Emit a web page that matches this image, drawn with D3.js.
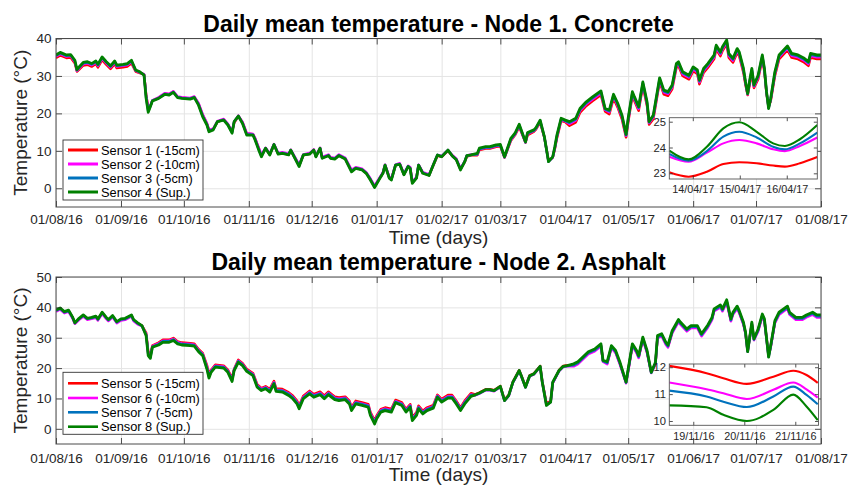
<!DOCTYPE html>
<html><head><meta charset="utf-8">
<script src="https://cdn.jsdelivr.net/npm/d3@7"></script>
<style>body{margin:0;background:#fff;} svg{font-family:"Liberation Sans",Arial,Helvetica,sans-serif;display:block;}</style>
</head><body><svg id="c" width="848" height="485"></svg>
<script>
// ---------------- DATA ----------------
const xTickLabels = ["01/08/16","01/09/16","01/10/16","01/11/16","01/12/16","01/01/17","01/02/17","01/03/17","01/04/17","01/05/17","01/06/17","01/07/17","01/08/17"];
const yTicksTop = [0,10,20,30,40];
const yTicksBot = [0,10,20,30,40,50];

// days since 01/08/16 (Node 1)
const daysTop = [0,2,5,7,9,10,11,13,15,17,19,20,22,24,26,28,29,32,34,36,38,40,
42,43,44,45,46,49,52,54,56,58,60,64,66,68,70,72,73,75,77,80,82,84,85,87,89,91,94,95,97,98,100,
102,104,106,108,111,112,114,116,118,121,123,124,126,127,130,131,133,135,138,141,143,146,148,150,152,155,156,157,159,160,162,164,166,168,169,170,172,173,175,178,180,182,184,187,189,191,193,195,196,198,
201,202,205,207,210,212,214,217,219,221,224,225,228,229,231,233,235,237,238,239,241,243,
245,248,250,253,256,260,262,264,266,268,270,272,273,275,276,278,280,282,283,285,287,288,290,292,294,296,297,299,302,304,306,307,309,311,314,315,317,318,320,321,323,325,326,328,329,330,331,332,333,335,337,338,339,340,341,343,345,349,351,354,357,359,360,363,365];
const sensor4 = [35.6,36.3,35.6,35.7,34.2,31.7,32.4,33.6,33.8,33.3,34.0,33.1,35.1,33.8,32.7,34.0,32.9,33.1,33.3,34.2,31.6,31.1,
30.2,24.0,20.3,21.8,23.3,24.0,25.1,24.9,25.6,24.2,24.0,23.8,24.2,22.2,19.1,16.9,15.1,15.6,17.8,18.2,16.9,14.7,17.8,19.3,17.3,14.2,14.2,12.9,9.8,8.4,10.7,
8.9,11.7,9.1,9.3,8.9,10.2,8.0,5.8,8.9,9.1,10.2,8.4,10.7,8.0,8.7,8.0,7.8,8.7,7.8,4.4,5.3,4.9,4.0,2.2,0.2,3.1,4.0,6.2,2.7,2.2,6.2,6.4,3.6,5.8,5.3,1.3,2.7,6.2,4.0,3.4,6.2,8.9,8.4,10.2,8.7,7.6,4.9,7.1,8.7,8.9,
9.3,10.7,11.1,11.1,11.6,11.7,8.4,13.3,14.7,17.1,12.4,14.9,15.6,16.2,18.2,13.8,7.1,8.4,11.1,14.2,18.7,18.2,
17.8,18.7,21.3,23.1,24.4,26.0,21.3,20.9,25.1,22.7,19.6,14.4,18.7,25.8,24.4,21.8,28.4,23.1,17.8,19.6,26.2,29.5,26.2,25.8,27.6,33.3,33.8,31.1,30.2,32.4,31.6,28.9,32.0,33.3,35.6,38.2,36.4,37.8,39.6,36.0,34.7,37.3,36.4,32.0,28.4,25.3,28.9,32.0,27.6,30.2,35.6,32.0,25.8,21.3,24.0,31.1,35.6,38.0,36.0,35.6,34.7,33.8,36.0,35.6,35.6];
const sensor3 = [35.4,36.1,35.4,35.5,34.0,31.5,32.2,33.4,33.6,33.1,33.8,32.9,34.9,33.6,32.5,33.8,32.7,32.9,33.1,34.0,31.5,31.0,
30.3,24.3,20.6,21.9,23.4,24.1,25.2,25.0,25.7,24.3,24.1,23.9,24.3,22.4,19.3,17.1,15.3,15.7,17.8,18.3,17.0,14.9,17.8,19.3,17.4,14.4,14.3,13.1,10.0,8.6,10.7,
9.0,11.7,9.2,9.4,9.0,10.2,8.1,6.0,8.9,9.2,10.2,8.5,10.7,8.1,8.8,8.1,7.9,8.8,7.9,4.6,5.4,5.0,4.1,2.4,0.4,3.2,4.1,6.2,2.8,2.3,6.2,6.5,3.7,5.9,5.4,1.5,2.8,6.2,4.1,3.5,6.2,8.9,8.5,10.2,8.7,7.7,5.1,7.1,8.7,8.9,
9.1,10.5,10.9,10.9,11.4,11.5,8.3,13.1,14.5,16.9,12.3,14.7,15.4,16.0,18.0,13.7,7.1,8.3,10.9,13.9,18.5,18.0,
17.5,18.4,21.0,22.8,24.1,25.7,21.1,20.6,24.8,22.4,19.3,14.2,18.4,25.5,24.1,21.5,28.1,22.8,17.6,19.3,25.9,29.2,25.9,25.5,27.3,33.0,33.5,30.8,29.9,32.1,31.3,28.6,31.7,33.0,35.3,37.9,36.1,37.5,39.3,35.7,34.4,37.0,36.1,31.7,28.2,25.2,28.6,31.7,27.4,29.9,35.3,31.8,25.7,21.4,23.8,30.8,35.3,37.7,35.7,35.3,34.4,33.5,35.7,35.3,35.3];
const sensor2 = [35.2,35.9,35.2,35.3,33.8,31.4,32.0,33.2,33.4,32.9,33.6,32.7,34.7,33.4,32.3,33.6,32.5,32.7,32.9,33.8,31.4,30.9,
30.5,24.8,21.2,22.0,23.5,24.3,25.4,25.2,25.9,24.5,24.3,24.1,24.5,22.7,19.7,17.4,15.6,15.9,17.9,18.5,17.2,15.2,17.7,19.4,17.7,14.7,14.5,13.4,10.4,9.0,10.8,
9.2,11.8,9.4,9.6,9.2,10.3,8.3,6.3,9.0,9.4,10.4,8.7,10.8,8.4,9.0,8.3,8.1,9.0,8.1,4.9,5.6,5.2,4.3,2.6,0.7,3.4,4.3,6.3,3.1,2.6,6.3,6.7,3.9,6.0,5.6,1.8,3.0,6.3,4.3,3.7,6.3,8.9,8.6,10.2,8.9,7.9,5.3,7.2,8.7,9.0,
9.0,10.4,10.8,10.8,11.3,11.4,8.3,12.9,14.4,16.7,12.3,14.5,15.3,15.9,17.9,13.7,7.2,8.2,10.7,13.7,18.3,17.9,
17.2,18.1,20.7,22.5,23.8,25.4,20.9,20.3,24.5,22.1,19.0,14.0,18.1,25.2,23.8,21.2,27.8,22.5,17.4,19.0,25.6,28.9,25.6,25.2,27.0,32.7,33.2,30.5,29.6,31.8,31.0,28.3,31.4,32.7,35.0,37.6,35.8,37.2,39.0,35.4,34.1,36.7,35.8,31.4,28.0,25.1,28.3,31.4,27.2,29.6,35.0,31.6,25.6,21.6,23.6,30.5,35.0,37.4,35.4,35.0,34.1,33.2,35.4,35.0,35.0];
const sensor1 = [34.8,35.5,34.8,34.9,33.4,31.2,31.7,32.8,33.0,32.5,33.2,32.3,34.3,33.0,31.9,33.2,32.1,32.3,32.5,33.4,31.2,30.8,
30.4,25.0,21.5,22.0,23.4,24.2,25.3,25.1,25.8,24.4,24.2,24.0,24.4,22.6,19.6,17.3,15.5,15.8,17.7,18.4,17.1,15.1,17.5,19.2,17.6,14.6,14.4,13.3,10.3,8.8,10.6,
9.0,11.6,9.2,9.4,9.0,10.1,8.1,6.1,8.8,9.2,10.2,8.5,10.6,8.2,8.8,8.1,7.9,8.8,7.9,4.7,5.4,5.0,4.1,2.4,0.5,3.2,4.1,6.1,2.9,2.4,6.1,6.5,3.7,5.8,5.4,1.6,2.8,6.1,4.1,3.5,6.1,8.7,8.4,10.0,8.7,7.7,5.1,7.0,8.5,8.8,
8.8,10.2,10.6,10.6,11.1,11.2,8.2,12.7,14.2,16.4,12.2,14.2,15.1,15.7,17.6,13.6,7.4,8.2,10.5,13.4,18.0,17.7,
16.7,17.6,20.2,22.0,23.3,24.9,20.5,19.8,24.0,21.6,18.5,13.6,17.6,24.7,23.3,20.7,27.3,22.0,17.0,18.5,25.1,28.4,25.1,24.7,26.5,32.2,32.7,30.0,29.1,31.3,30.5,27.8,30.9,32.2,34.5,37.1,35.3,36.7,38.5,34.9,33.6,36.2,35.3,30.9,27.6,24.9,27.8,30.9,26.8,29.1,34.5,31.2,25.4,21.8,23.3,30.0,34.5,36.9,34.9,34.5,33.6,32.7,34.9,34.5,34.5];

// days since 01/08/16 (Node 2)
const daysBot = [0,2,4,6,8,9,11,13,15,17,19,20,22,24,25,27,29,31,33,36,37,39,41,
43,44,45,46,49,51,54,56,58,60,64,66,68,70,72,73,74,76,80,82,84,85,87,89,91,94,96,98,100,
102,104,105,108,111,113,115,116,118,121,123,126,128,130,133,135,138,140,141,143,146,149,150,152,153,155,157,160,162,165,167,169,170,172,173,175,177,180,182,184,187,189,191,193,195,198,
200,202,205,207,209,212,214,216,218,221,222,224,226,228,231,232,234,236,237,240,242,244,
247,249,252,254,257,260,261,263,265,267,269,272,273,275,277,278,280,282,284,286,287,289,291,292,294,297,298,301,303,306,308,311,313,314,317,318,320,322,323,325,326,328,329,330,332,333,335,337,338,340,341,343,345,349,350,353,356,358,361,363,365];
const sensor8 = [39.1,39.8,38.6,39.1,36.7,34.9,36.4,37.5,36.4,36.7,37.1,36.2,38.4,36.7,36.0,37.3,35.3,36.2,36.4,37.5,36.0,34.9,34.0,
30.7,24.1,23.2,26.9,27.6,28.5,28.5,29.1,28.0,27.6,27.4,27.2,25.4,24.1,19.7,16.7,18.6,20.3,20.0,18.6,15.6,19.2,21.9,20.8,18.9,17.5,13.7,12.6,13.2,
12.1,14.8,12.3,12.1,11.0,9.9,8.2,6.6,9.9,11.5,10.4,11.2,9.9,11.2,9.6,9.3,9.6,8.2,6.0,8.2,7.7,7.1,4.4,1.6,3.3,5.5,6.0,5.5,8.6,7.7,5.5,7.1,2.7,4.4,6.6,4.9,6.0,6.8,10.4,8.8,10.1,10.1,8.2,6.0,8.2,10.7,
11.2,11.8,12.9,12.9,12.6,14.0,9.3,11.0,15.4,19.2,17.5,13.7,17.5,18.1,20.6,15.4,7.7,8.8,15.4,19.2,20.6,20.8,
21.4,22.1,24.1,25.4,26.3,28.0,22.5,22.1,27.4,25.8,22.1,15.4,19.7,28.0,25.8,24.1,30.2,25.8,18.6,21.9,30.7,31.3,28.5,27.6,32.3,36.0,35.1,32.9,34.0,34.0,31.3,34.2,36.7,39.5,40.8,39.5,42.5,36.2,38.4,40.4,38.9,35.1,31.8,25.4,35.1,29.6,32.9,37.8,36.2,23.6,27.4,35.6,38.4,40.4,38.4,36.7,36.7,37.5,38.4,37.5,37.5];
const sensor7 = [38.9,39.6,38.4,38.9,36.5,34.8,36.2,37.3,36.2,36.5,36.9,36.0,38.2,36.5,35.8,37.1,35.1,36.0,36.2,37.3,35.8,34.7,33.9,
31.0,24.5,23.5,27.0,27.9,28.8,28.8,29.4,28.3,27.9,27.7,27.5,25.7,24.4,20.1,17.1,18.9,20.6,20.3,18.9,16.0,19.4,22.2,21.1,19.2,17.8,14.0,12.9,13.5,
12.5,15.1,12.7,12.5,11.4,10.3,8.6,7.0,10.2,11.9,10.8,11.6,10.3,11.6,10.0,9.7,10.0,8.6,6.4,8.6,8.1,7.5,4.8,2.0,3.7,5.9,6.4,5.9,8.9,8.1,5.9,7.5,3.1,4.8,7.0,5.3,6.4,7.2,10.7,9.2,10.5,10.5,8.6,6.4,8.6,11.1,
11.1,11.7,12.8,12.8,12.5,13.9,9.3,10.9,15.3,19.1,17.4,13.7,17.4,18.0,20.5,15.4,7.8,8.8,15.2,19.1,20.5,20.7,
21.0,21.7,23.7,25.0,25.9,27.6,22.3,21.7,27.0,25.4,21.7,15.2,19.3,27.6,25.4,23.7,29.8,25.4,18.5,21.5,30.3,30.9,28.1,27.2,31.9,35.6,34.7,32.5,33.6,33.6,30.9,33.8,36.3,39.1,40.4,39.1,42.1,35.8,38.0,40.0,38.5,34.7,31.5,25.4,34.7,29.4,32.5,37.4,35.8,23.7,27.1,35.2,38.0,40.0,38.0,36.3,36.3,37.1,38.0,37.1,37.1];
const sensor6 = [38.6,39.3,38.1,38.6,36.2,34.6,35.9,37.0,35.9,36.2,36.6,35.7,37.9,36.2,35.5,36.8,34.8,35.7,35.9,37.0,35.5,34.4,33.8,
31.3,24.9,23.8,27.2,28.1,29.0,29.0,29.6,28.5,28.1,27.9,27.7,25.9,24.6,20.5,17.5,19.1,20.8,20.5,19.1,16.3,19.5,22.4,21.3,19.4,18.0,14.3,13.1,13.7,
12.7,15.3,12.9,12.7,11.6,10.5,8.8,7.3,10.4,12.1,11.0,11.8,10.5,11.8,10.2,9.9,10.2,8.8,6.7,8.8,8.3,7.7,5.1,2.3,3.9,6.1,6.6,6.1,9.1,8.3,6.1,7.7,3.4,5.0,7.2,5.5,6.6,7.4,10.9,9.4,10.7,10.7,8.8,6.6,8.8,11.3,
11.0,11.6,12.7,12.7,12.4,13.8,9.3,10.8,15.2,19.0,17.3,13.7,17.3,17.9,20.4,15.4,8.0,8.8,15.0,19.0,20.4,20.6,
20.6,21.3,23.3,24.6,25.5,27.2,22.1,21.3,26.6,25.0,21.3,15.0,18.9,27.2,25.0,23.3,29.4,25.0,18.4,21.1,29.9,30.5,27.7,26.8,31.5,35.2,34.3,32.1,33.2,33.2,30.5,33.4,35.9,38.7,40.0,38.7,41.7,35.4,37.6,39.6,38.1,34.3,31.2,25.4,34.3,29.2,32.1,37.0,35.4,23.9,26.8,34.8,37.6,39.6,37.6,35.9,35.9,36.7,37.6,36.7,36.7];
const sensor5 = [38.9,39.6,38.4,38.9,36.5,34.9,36.2,37.3,36.2,36.5,36.9,36.0,38.2,36.5,35.8,37.1,35.1,36.0,36.2,37.3,35.8,34.7,34.0,
31.6,25.4,24.2,27.4,28.4,29.3,29.3,29.9,28.8,28.4,28.2,28.0,26.2,24.9,21.0,18.0,19.4,21.1,20.8,19.4,16.7,19.7,22.7,21.6,19.7,18.3,14.6,13.4,14.0,
13.1,15.7,13.3,13.1,12.0,10.9,9.2,7.7,10.8,12.5,11.4,12.2,10.9,12.2,10.6,10.3,10.6,9.2,7.1,9.2,8.7,8.1,5.5,2.7,4.3,6.5,7.0,6.5,9.5,8.7,6.5,8.1,3.8,5.4,7.6,5.9,7.0,7.8,11.2,9.8,11.1,11.1,9.2,7.0,9.2,11.7,
11.3,11.9,13.0,13.0,12.7,14.1,9.6,11.1,15.5,19.3,17.6,14.0,17.6,18.2,20.7,15.7,8.4,9.1,15.1,19.3,20.7,20.9,
20.9,21.6,23.6,24.9,25.8,27.5,22.4,21.6,26.9,25.3,21.6,15.3,19.2,27.5,25.3,23.6,29.7,25.3,18.7,21.4,30.2,30.8,28.0,27.1,31.8,35.5,34.6,32.4,33.5,33.5,30.8,33.7,36.2,39.0,40.3,39.0,42.0,35.7,37.9,39.9,38.4,34.6,31.6,25.8,34.6,29.6,32.4,37.3,35.7,24.3,27.2,35.1,37.9,39.9,37.9,36.2,36.2,37.0,37.9,37.0,37.0];

// Inset Node 1: day of April 2017 (fractional)
const insetTopDay = [13.50,13.91,14.30,14.65,14.99,15.36,15.71,15.96,16.28,16.65];
const insetTopS4 = [23.88,23.54,24.03,24.74,24.98,24.61,24.16,24.06,24.32,24.87];
const insetTopS3 = [23.75,23.49,23.86,24.42,24.61,24.39,24.03,23.93,24.16,24.58];
const insetTopS2 = [23.64,23.45,23.80,24.16,24.29,24.16,23.93,23.86,24.06,24.39];
const insetTopS1 = [23.04,22.87,23.06,23.36,23.43,23.39,23.30,23.26,23.39,23.63];
const insetTopXTicks = ["14/04/17","15/04/17","16/04/17"];
const insetTopYTicks = [23,24,25];
// Inset Node 2: day of November 2016 (fractional)
const insetBotDay = [18.53,19.26,19.59,20.05,20.57,20.96,21.22,21.44];
const insetBotS5 = [12.05,11.78,11.59,11.38,11.65,11.87,11.71,11.42];
const insetBotS6 = [11.43,11.18,11.03,10.82,11.16,11.43,11.18,10.87];
const insetBotS7 = [11.13,10.91,10.72,10.52,10.91,11.28,10.97,10.62];
const insetBotS8 = [10.58,10.51,10.23,10.00,10.41,10.98,10.54,10.03];
const insetBotXTicks = ["19/11/16","20/11/16","21/11/16"];
const insetBotYTicks = [10,11,12];

const namesTop = ["Sensor 1 (-15cm)","Sensor 2 (-10cm)","Sensor 3 (-5cm)","Sensor 4 (Sup.)"];
const namesBot = ["Sensor 5 (-15cm)","Sensor 6 (-10cm)","Sensor 7 (-5cm)","Sensor 8 (Sup.)"];
const colors = ["#ff0000","#ff00ff","#0072bd","#008000"];

// ---------------- DRAW ----------------
const svg = d3.select("#c");
const DAY = 864e5;
const t0 = Date.UTC(2016,7,1);
const parseTick = d3.utcParse("%d/%m/%y");
const xTickDates = xTickLabels.map(parseTick);
const FONT = '"Liberation Sans",Arial,Helvetica,sans-serif';
const INK = "#262626";
const intFmt = d3.format("d");

function styleAxis(g, fs){
  g.attr("font-size", fs).attr("font-family", FONT);
  g.select(".domain").remove();
  g.selectAll(".tick line").attr("stroke", INK).attr("stroke-width", 0.8);
  g.selectAll(".tick text").attr("fill", INK);
}

function panel(cfg){
  const g = svg.append("g");
  const x = d3.scaleUtc().domain([xTickDates[0], xTickDates[xTickDates.length-1]]).range([cfg.x0, cfg.x1]);
  const y = d3.scaleLinear().domain(cfg.yDomain).range([cfg.y1, cfg.y0]);
  const W = cfg.x1-cfg.x0, H = cfg.y1-cfg.y0;

  g.append("rect").attr("x",cfg.x0).attr("y",cfg.y0).attr("width",W).attr("height",H).attr("fill","#fff");
  // grid
  const gx = g.append("g").attr("transform",`translate(0,${cfg.y1})`)
    .call(d3.axisBottom(x).tickValues(xTickDates).tickSize(-H).tickFormat(""));
  gx.select(".domain").remove(); gx.selectAll("line").attr("stroke","#e4e4e4");
  const gy = g.append("g").attr("transform",`translate(${cfg.x0},0)`)
    .call(d3.axisLeft(y).tickValues(cfg.yTicks).tickSize(-W).tickFormat(""));
  gy.select(".domain").remove(); gy.selectAll("line").attr("stroke","#e4e4e4");

  // lines
  const clipId = "clip"+cfg.id;
  svg.append("clipPath").attr("id",clipId).append("rect").attr("x",cfg.x0).attr("y",cfg.y0).attr("width",W).attr("height",H);
  const line = d3.line().x(d=>x(d[0])).y(d=>y(d[1]));
  const lg = g.append("g").attr("clip-path",`url(#${clipId})`);
  cfg.series.forEach((s,k)=>{
    const pts = cfg.days.map((d,i)=>[new Date(t0 + d*DAY), s[i]]);
    lg.append("path").datum(pts).attr("d",line).attr("fill","none")
      .attr("stroke",colors[k]).attr("stroke-width", k===3?2.8:2.5).attr("stroke-linejoin","round");
  });

  // axes
  const ab = g.append("g").attr("transform",`translate(0,${cfg.y1})`)
    .call(d3.axisBottom(x).tickValues(xTickDates).tickFormat((d,i)=>xTickLabels[i]).tickSize(-6).tickPadding(cfg.xPad));
  styleAxis(ab, 13.5);
  const at = g.append("g").attr("transform",`translate(0,${cfg.y0})`)
    .call(d3.axisTop(x).tickValues(xTickDates).tickFormat("").tickSize(-6));
  styleAxis(at, 13.5);
  const al = g.append("g").attr("transform",`translate(${cfg.x0},0)`)
    .call(d3.axisLeft(y).tickValues(cfg.yTicks).tickFormat(intFmt).tickSize(-6).tickPadding(4.5));
  styleAxis(al, 13.5);
  const ar = g.append("g").attr("transform",`translate(${cfg.x1},0)`)
    .call(d3.axisRight(y).tickValues(cfg.yTicks).tickFormat("").tickSize(-6));
  styleAxis(ar, 13.5);
  g.append("rect").attr("x",cfg.x0).attr("y",cfg.y0).attr("width",W).attr("height",H)
    .attr("fill","none").attr("stroke","#4a4a4a").attr("stroke-width",1);

  // labels
  g.append("text").attr("x",(cfg.x0+cfg.x1)/2).attr("y",cfg.titleY).attr("text-anchor","middle")
    .attr("font-size",23).attr("font-weight","bold").attr("fill","#000").text(cfg.title);
  g.append("text").attr("x",(cfg.x0+cfg.x1)/2).attr("y",cfg.xLabelY).attr("text-anchor","middle")
    .attr("font-size",19).attr("fill",INK).text("Time (days)");
  g.append("text").attr("transform",`translate(27,${(cfg.y0+cfg.y1)/2}) rotate(-90)`).attr("text-anchor","middle")
    .attr("font-size",19).attr("fill",INK).text("Temperature (°C)");

  // legend
  const L = cfg.legend;
  const leg = g.append("g");
  leg.append("rect").attr("x",L.x).attr("y",L.y).attr("width",L.w).attr("height",L.h)
    .attr("fill","#fff").attr("stroke","#333").attr("stroke-width",0.9);
  cfg.names.forEach((n,k)=>{
    const cy = L.rows[k];
    leg.append("line").attr("x1",L.x+5).attr("x2",L.x+35).attr("y1",cy).attr("y2",cy)
      .attr("stroke",colors[k]).attr("stroke-width",L.lw);
    leg.append("text").attr("x",L.x+38).attr("y",cy+4.5).attr("font-size",12.8).attr("fill","#000").text(n);
  });

  // inset
  const I = cfg.inset;
  const iW = I.x1-I.x0, iH = I.y1-I.y0;
  const monthStart = I.monthStart;
  const dayToDate = d => new Date(monthStart + (d-1)*DAY);
  const ix = d3.scaleUtc().domain(I.dayDomain.map(dayToDate)).range([I.x0, I.x1]);
  const iy = d3.scaleLinear().domain(I.yDomain).range([I.y1, I.y0]);
  const ig = g.append("g");
  ig.append("rect").attr("x",I.x0).attr("y",I.y0).attr("width",iW).attr("height",iH).attr("fill","#fff");
  const iclip = "iclip"+cfg.id;
  svg.append("clipPath").attr("id",iclip).append("rect").attr("x",I.x0).attr("y",I.y0).attr("width",iW).attr("height",iH);
  const iline = d3.line().x(d=>ix(d[0])).y(d=>iy(d[1])).curve(d3.curveMonotoneX);
  const ilg = ig.append("g").attr("clip-path",`url(#${iclip})`);
  I.series.forEach((s,k)=>{
    const pts = I.days.map((d,i)=>[dayToDate(d), s[i]]);
    ilg.append("path").datum(pts).attr("d",iline).attr("fill","none")
      .attr("stroke",colors[k]).attr("stroke-width",2.1);
  });
  const ixTicks = I.xTicks.map(parseTick);
  const iab = ig.append("g").attr("transform",`translate(0,${I.y1})`)
    .call(d3.axisBottom(ix).tickValues(ixTicks).tickFormat((d,i)=>I.xTicks[i]).tickSize(-3.5).tickPadding(I.xPad));
  styleAxis(iab, 10.8);
  const iat = ig.append("g").attr("transform",`translate(0,${I.y0})`)
    .call(d3.axisTop(ix).tickValues(ixTicks).tickFormat("").tickSize(-3.5));
  styleAxis(iat, 10.8);
  const ial = ig.append("g").attr("transform",`translate(${I.x0},0)`)
    .call(d3.axisLeft(iy).tickValues(I.yTicks).tickFormat(intFmt).tickSize(-3.5).tickPadding(3.3));
  styleAxis(ial, 11.2);
  const iar = ig.append("g").attr("transform",`translate(${I.x1},0)`)
    .call(d3.axisRight(iy).tickValues(I.yTicks).tickFormat("").tickSize(-3.5));
  styleAxis(iar, 10.8);
  ig.append("rect").attr("x",I.x0).attr("y",I.y0).attr("width",iW).attr("height",iH)
    .attr("fill","none").attr("stroke","#555").attr("stroke-width",0.9);
}

panel({
  id:"top", x0:56, x1:821, y0:38.5, y1:207, yDomain:[-5,40], yTicks:yTicksTop, xPad:7.4,
  title:"Daily mean temperature - Node 1. Concrete", titleY:31.5, xLabelY:243.5,
  days:daysTop, series:[sensor1,sensor2,sensor3,sensor4], names:namesTop,
  legend:{x:63, y:140, w:140, h:60, rows:[150,164,178,192], lw:3},
  inset:{x0:669.3, x1:817.3, y0:117.7, y1:179, monthStart:Date.UTC(2017,3,1),
    dayDomain:[13.50,16.65], yDomain:[22.78,25.155], yTicks:insetTopYTicks, xTicks:insetTopXTicks, xPad:6.3,
    days:insetTopDay, series:[insetTopS1,insetTopS2,insetTopS3,insetTopS4]}
});
panel({
  id:"bot", x0:56, x1:821, y0:277, y1:444, yDomain:[-5,50], yTicks:yTicksBot, xPad:9,
  title:"Daily mean temperature - Node 2. Asphalt", titleY:270, xLabelY:481,
  days:daysBot, series:[sensor5,sensor6,sensor7,sensor8], names:namesBot,
  legend:{x:63, y:372.3, w:140, h:62, rows:[383.3,398,412.3,426.7], lw:2.6},
  inset:{x0:669.3, x1:818.5, y0:364, y1:425.3, monthStart:Date.UTC(2016,10,1),
    dayDomain:[18.53,21.455], yDomain:[9.84,12.12], yTicks:insetBotYTicks, xTicks:insetBotXTicks, xPad:7,
    days:insetBotDay, series:[insetBotS5,insetBotS6,insetBotS7,insetBotS8]}
});
</script>
</body></html>
